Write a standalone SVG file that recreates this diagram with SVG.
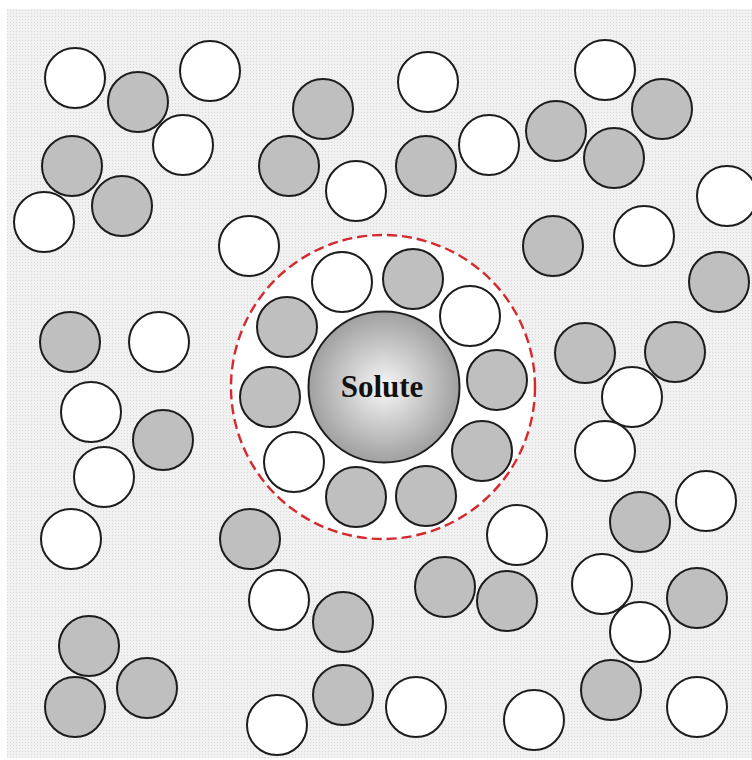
<svg xmlns="http://www.w3.org/2000/svg" width="752" height="760" viewBox="0 0 752 760">
<defs>
<pattern id="dots" width="3" height="3" patternUnits="userSpaceOnUse">
<rect width="3" height="3" fill="#f1f1f1"/>
<rect x="1" y="1" width="1" height="1" fill="#d9d9d9"/>
</pattern>
<radialGradient id="sol" cx="0.5" cy="0.5" r="0.5">
<stop offset="0" stop-color="#f7f7f7"/>
<stop offset="1" stop-color="#a0a0a0"/>
</radialGradient>
<style>
.w{fill:#ffffff;stroke:#1c1c1c;stroke-width:2}
.g{fill:#bfbfbf;stroke:#1c1c1c;stroke-width:2}
.shell{fill:#ffffff;stroke:#d42a2e;stroke-width:2.4;stroke-dasharray:10 5}
.sol{fill:url(#sol);stroke:#1c1c1c;stroke-width:2}
.lbl{font-family:"Liberation Serif","Times New Roman",serif;font-weight:bold;font-size:31px;fill:#111}
</style>
</defs>
<rect x="0" y="0" width="752" height="760" fill="#ffffff"/>
<rect x="7" y="9" width="745" height="749" fill="url(#dots)"/>
<g id="connectors"></g>
<g id="shell"><circle class="shell" cx="383" cy="387" r="152"/></g>
<g id="n1"><circle class="w" cx="75" cy="78" r="30"/></g>
<g id="n2"><circle class="g" cx="138" cy="102" r="30"/></g>
<g id="n3"><circle class="w" cx="210" cy="71" r="30"/></g>
<g id="n4"><circle class="w" cx="183" cy="145" r="30"/></g>
<g id="n5"><circle class="g" cx="72" cy="166" r="30"/></g>
<g id="n6"><circle class="g" cx="122" cy="206" r="30"/></g>
<g id="n7"><circle class="w" cx="44" cy="222" r="30"/></g>
<g id="n8"><circle class="w" cx="249" cy="246" r="30"/></g>
<g id="n9"><circle class="g" cx="323" cy="109" r="30"/></g>
<g id="n10"><circle class="g" cx="289" cy="166" r="30"/></g>
<g id="n11"><circle class="w" cx="356" cy="191" r="30"/></g>
<g id="n12"><circle class="w" cx="428" cy="82" r="30"/></g>
<g id="n13"><circle class="g" cx="426" cy="166" r="30"/></g>
<g id="n14"><circle class="w" cx="489" cy="145" r="30"/></g>
<g id="n15"><circle class="g" cx="556" cy="131" r="30"/></g>
<g id="n16"><circle class="w" cx="605" cy="70" r="30"/></g>
<g id="n17"><circle class="g" cx="662" cy="109" r="30"/></g>
<g id="n18"><circle class="g" cx="614" cy="158" r="30"/></g>
<g id="n19"><circle class="w" cx="727" cy="196" r="30"/></g>
<g id="n20"><circle class="g" cx="553" cy="246" r="30"/></g>
<g id="n21"><circle class="w" cx="644" cy="236" r="30"/></g>
<g id="n22"><circle class="g" cx="719" cy="282" r="30"/></g>
<g id="n23"><circle class="g" cx="70" cy="342" r="30"/></g>
<g id="n24"><circle class="w" cx="159" cy="342" r="30"/></g>
<g id="n25"><circle class="w" cx="91" cy="412" r="30"/></g>
<g id="n26"><circle class="g" cx="163" cy="440" r="30"/></g>
<g id="n27"><circle class="w" cx="104" cy="477" r="30"/></g>
<g id="n28"><circle class="w" cx="71" cy="539" r="30"/></g>
<g id="n29"><circle class="g" cx="250" cy="539" r="30"/></g>
<g id="n30"><circle class="g" cx="89" cy="646" r="30"/></g>
<g id="n31"><circle class="g" cx="75" cy="707" r="30"/></g>
<g id="n32"><circle class="g" cx="147" cy="688" r="30"/></g>
<g id="n33"><circle class="w" cx="279" cy="600" r="30"/></g>
<g id="n34"><circle class="g" cx="343" cy="622" r="30"/></g>
<g id="n35"><circle class="g" cx="343" cy="695" r="30"/></g>
<g id="n36"><circle class="w" cx="277" cy="725" r="30"/></g>
<g id="n37"><circle class="w" cx="416" cy="707" r="30"/></g>
<g id="n38"><circle class="g" cx="445" cy="587" r="30"/></g>
<g id="n39"><circle class="g" cx="507" cy="601" r="30"/></g>
<g id="n40"><circle class="w" cx="517" cy="535" r="30"/></g>
<g id="n41"><circle class="w" cx="534" cy="720" r="30"/></g>
<g id="n42"><circle class="g" cx="585" cy="353" r="30"/></g>
<g id="n43"><circle class="g" cx="675" cy="352" r="30"/></g>
<g id="n44"><circle class="w" cx="632" cy="397" r="30"/></g>
<g id="n45"><circle class="w" cx="605" cy="451" r="30"/></g>
<g id="n46"><circle class="g" cx="640" cy="522" r="30"/></g>
<g id="n47"><circle class="w" cx="706" cy="501" r="30"/></g>
<g id="n48"><circle class="w" cx="602" cy="584" r="30"/></g>
<g id="n49"><circle class="g" cx="697" cy="598" r="30"/></g>
<g id="n50"><circle class="w" cx="640" cy="632" r="30"/></g>
<g id="n51"><circle class="g" cx="611" cy="690" r="30"/></g>
<g id="n52"><circle class="w" cx="697" cy="707" r="30"/></g>
<g id="r1"><circle class="w" cx="342" cy="282" r="30"/></g>
<g id="r2"><circle class="g" cx="413" cy="279" r="30"/></g>
<g id="r3"><circle class="w" cx="470" cy="316" r="30"/></g>
<g id="r4"><circle class="g" cx="287" cy="327" r="30"/></g>
<g id="r5"><circle class="g" cx="497" cy="380" r="30"/></g>
<g id="r6"><circle class="g" cx="270" cy="397" r="30"/></g>
<g id="r7"><circle class="w" cx="294" cy="462" r="30"/></g>
<g id="r8"><circle class="g" cx="482" cy="451" r="30"/></g>
<g id="r9"><circle class="g" cx="356" cy="497" r="30"/></g>
<g id="r10"><circle class="g" cx="426" cy="496" r="30"/></g>
<g id="solute">
<circle class="sol" cx="384" cy="387" r="75.5"/>
<text class="lbl" x="382" y="397" text-anchor="middle">Solute</text>
</g>
</svg>
